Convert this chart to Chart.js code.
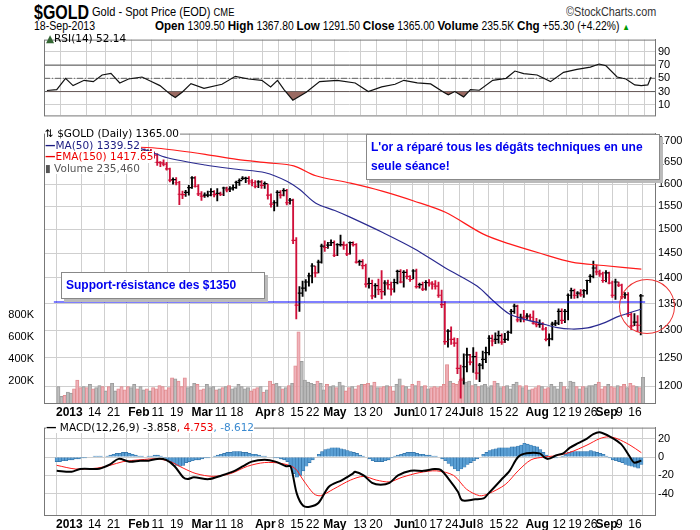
<!DOCTYPE html>
<html><head><meta charset="utf-8">
<script src="https://cdn.jsdelivr.net/npm/chart.js@4"></script>
<style>
body{margin:0;background:#fff;width:700px;height:530px;overflow:hidden;position:relative;font-family:"Liberation Sans",Arial,sans-serif}
canvas{position:absolute;left:0}
.t{position:absolute;white-space:nowrap;transform-origin:0 0}
.box{position:absolute;background:#fff;border:1px solid #888;box-shadow:3px 3px 0 #bbb;color:#0000ee;font:bold 12px "Liberation Sans",Arial;padding:3px 4px;line-height:19px}
.lg{position:absolute;font:10.5px "DejaVu Sans",sans-serif;white-space:nowrap}
.lg span.l{background:#fff;display:inline-block;padding-right:1px}
</style></head><body>
<div class="t" style="left:34px;top:1px;font-weight:bold;font-size:20px;transform:scaleX(0.8)">$GOLD</div>
<div class="t" style="left:92px;top:4px;font-size:13px;transform:scaleX(0.85)">Gold - Spot Price (EOD) <span style="font-size:11px">CME</span></div>
<div class="t" style="left:566px;top:5px;font-size:12px;color:#333;transform:scaleX(0.9)">©StockCharts.com</div>
<div class="t" style="left:34px;top:19px;font-size:12px;transform:scaleX(0.88)">18-Sep-2013</div>
<div class="t" style="left:155px;top:18px;font-size:12px;transform:scaleX(0.86)"><b style="font-size:13.5px">Open</b> 1309.50 <b style="font-size:13.5px">High</b> 1367.80 <b style="font-size:13.5px">Low</b> 1291.50 <b style="font-size:13.5px">Close</b> 1365.00 <b style="font-size:13.5px">Volume</b> 235.5K <b style="font-size:13.5px">Chg</b> +55.30 (+4.22%) <span style="color:#090;font-size:9px">▲</span></div>
<canvas id="rsi" width="700" height="95" style="top:30px"></canvas>
<canvas id="main" width="700" height="296" style="top:124px"></canvas>
<canvas id="macd" width="700" height="112" style="top:418px"></canvas>
<div class="lg" style="left:46px;top:32px"><span style="color:#363">▲</span>RSI(14) 52.14</div>
<div class="lg" style="left:45px;top:128px;line-height:11.5px">
<span class="l">⇅ $GOLD (Daily) 1365.00</span><br>
<span class="l" style="color:#1a1a80"><b>—</b>MA(50) 1339.52</span><br>
<span class="l" style="color:#e00"><b>—</b>EMA(150) 1417.65</span><br>
<span class="l" style="color:#555">▮ Volume 235,460</span></div>
<div class="lg" style="left:46px;top:421px;background:#fff"><b>—</b> MACD(12,26,9) -3.858<span style="color:#e00">, 4.753</span><span style="color:#3a8ad0">, -8.612</span></div>
<div class="box" style="left:61px;top:272px;width:194px">Support-résistance des $1350</div>
<div class="box" style="left:366px;top:134px;width:284px">L'or a réparé tous les dégâts techniques en une seule séance!</div>
<div style="position:absolute;left:619px;top:279px;width:54px;height:53px;border:1.3px solid #e33;border-radius:50%"></div>
<script>
const closes=[1659,1661,1657,1675,
1688,1664,1656,1646,1659,1655,1676,1662,1668,1683,1681,1688,1687,1692,1692,1685,1668,1659,1655,1661,1677,1663,
1669,1676,1674,1676,1670,1667,1650,1649,1646,1635,1609,1610,1603,1577,1576,1581,1592,1614,1595,1578,
1573,1575,1575,1583,1576,1579,1577,1591,1587,1589,1592,1604,1608,1613,1613,1607,1603,1595,1605,1597,
1601,1575,1555,1558,1581,1575,1585,1558,1564,1477,1347,1370,1380,1392,1404,1424,1410,1432,1465,1462,1467,1472,
1446,1468,1468,1467,1449,1472,1468,1432,1433,1425,1388,1389,1365,1385,1377,1373,1390,1387,1378,1391,1413,1392,
1411,1403,1397,1414,1383,1387,1378,1391,1390,1388,1384,1366,1348,1279,1298,1283,1276,1231,1211,1234,
1255,1242,1252,1223,1237,1247,1259,1285,1280,1283,1290,1278,1283,1296,1335,1345,1319,1324,1323,1326,1324,1313,
1310,1311,1302,1283,1284,1311,1313,1335,1318,1335,1366,1375,1366,1370,1367,1375,1395,1403,1420,1412,1408,1395,
1410,1390,1366,1392,1386,1363,1367,1329,1308,1315,1309,1365];
const highs=[1665,1668,1665,1677,
1694,1689,1669,1660,1664,1665,1680,1680,1672,1686,1690,1693,1694,1696,1698,1695,1686,1672,1665,1665,1679,1680,
1673,1678,1682,1680,1681,1675,1671,1652,1656,1650,1637,1614,1615,1606,1584,1586,1597,1617,1617,1599,
1583,1580,1584,1590,1585,1590,1582,1593,1593,1594,1598,1607,1612,1617,1616,1617,1610,1608,1608,1608,
1605,1600,1578,1563,1585,1585,1590,1588,1568,1566,1483,1383,1394,1397,1410,1429,1424,1436,1469,1476,1473,1478,
1476,1470,1488,1474,1469,1474,1474,1470,1436,1437,1428,1400,1396,1389,1398,1415,1395,1396,1392,1398,1416,1417,
1415,1417,1405,1417,1418,1390,1392,1395,1397,1393,1395,1392,1376,1354,1301,1306,1286,1285,1237,1257,
1267,1256,1268,1260,1240,1262,1269,1290,1291,1295,1298,1293,1294,1298,1339,1349,1347,1330,1337,1331,1330,1336,
1322,1319,1314,1305,1293,1315,1318,1340,1340,1339,1369,1380,1378,1373,1377,1377,1396,1407,1434,1426,1416,1412,
1415,1412,1394,1398,1392,1388,1371,1371,1333,1331,1327,1368];
const lows=[1650,1654,1650,1656,
1670,1661,1627,1640,1645,1645,1652,1656,1658,1664,1675,1678,1680,1685,1684,1679,1662,1655,1653,1651,1659,1658,
1655,1664,1670,1669,1665,1660,1643,1640,1642,1632,1605,1600,1598,1554,1567,1572,1575,1590,1593,1574,
1563,1570,1571,1573,1571,1562,1574,1574,1582,1583,1586,1590,1597,1610,1603,1600,1596,1591,1592,1590,
1590,1566,1548,1540,1550,1568,1573,1553,1555,1470,1321,1335,1364,1374,1384,1390,1402,1410,1430,1454,1460,1466,
1443,1445,1465,1458,1445,1448,1465,1430,1425,1418,1382,1380,1359,1362,1367,1359,1366,1378,1366,1372,1388,1390,
1382,1398,1393,1398,1380,1380,1375,1376,1384,1378,1378,1362,1342,1274,1269,1274,1270,1222,1180,1204,
1225,1237,1224,1212,1208,1230,1241,1255,1271,1275,1276,1274,1277,1281,1294,1331,1315,1315,1315,1320,1318,1311,
1306,1305,1300,1280,1271,1282,1308,1310,1312,1314,1319,1360,1360,1361,1364,1362,1368,1391,1400,1406,1403,1391,
1392,1388,1362,1358,1383,1359,1360,1325,1301,1308,1297,1291];
const volumes=[150,60,70,100,
90,130,210,140,150,140,170,130,140,160,150,110,150,180,110,130,150,120,150,140,170,130,
150,120,130,110,140,130,160,150,120,140,230,220,200,150,230,140,150,180,170,120,
130,170,140,150,120,130,140,150,160,130,140,170,150,130,140,110,130,140,150,100,
120,200,170,180,150,130,140,160,180,340,650,380,210,190,180,170,200,180,120,170,150,160,
140,190,160,110,140,150,130,160,170,170,180,160,190,140,140,150,160,150,110,170,220,160,
150,130,170,160,200,150,160,130,140,150,140,150,170,350,200,180,170,200,230,190,
200,160,170,150,160,170,140,160,200,180,140,150,160,130,170,190,160,140,160,120,130,140,
160,150,130,140,170,150,130,190,150,130,200,190,150,130,150,140,160,160,170,190,130,150,
170,150,140,160,150,170,140,180,160,150,140,235];
const ma50=[[0,1717],[26,1684],[35,1661],[47,1644],[57,1634],[66,1626],[73,1606],[77,1587],[82,1557],[88,1541],[93,1526],[103,1494],[113,1460],[123,1420],[133,1384],[138,1356],[143,1331],[148,1320],[153,1313],[158,1305],[163,1302],[168,1304],[173,1313],[178,1326],[185,1339.5]];
const ema150=[[0,1692],[26,1686],[33,1683],[47,1669],[57,1657],[67,1649],[75,1642],[82,1619],[93,1602],[103,1584],[113,1562],[123,1537],[135,1490],[143,1470],[153,1450],[163,1432],[173,1425],[185,1417.65]];
const rsi14=[[0,31.6],[3,33],[5.7,50],[8,39],[11.4,47],[14.2,45],[16.9,55],[19.6,57.6],[22.3,43],[25,49],[29.1,52],[31.8,45.6],[34.6,39],[38,25],[39.3,21],[41.4,29],[44.1,42],[48.1,35],[53.6,41],[57.7,53],[61.7,49],[65.8,47],[68.5,37],[70.6,47],[72.6,33],[75.3,17],[79.4,29],[83.5,45],[88.9,47],[94.4,43],[98.4,30],[102.5,37],[106.6,41],[109.3,47],[113.4,43],[117.5,41.6],[121.5,29],[122.9,25],[124.9,30],[127.6,22],[129.7,33],[132.4,32],[136.5,47],[140.6,50],[143.3,61],[146,57],[150.1,55],[154.2,45],[158.2,59],[162.3,63.6],[166.4,67],[169.1,71.6],[171.2,69],[174.6,52],[177.3,49],[180,40],[182,39],[184,40],[185,52.14]];
const macdLine=[[0,-15],[4.7,-16],[7.4,-13],[12.8,-13],[14.2,-12],[16.9,-8],[19.6,-2],[23,-5],[26.4,-4],[29.1,-4],[31.8,-2],[34.6,-3],[37.3,-10],[40,-22],[41.4,-24],[43.4,-22],[48.1,-24],[52.2,-20],[56.3,-15],[59,-10],[61.7,-5],[65.8,-3],[69.2,-5],[72.6,-10],[74,-10],[76,-40],[78,-53],[80.1,-54],[82.8,-50],[86.2,-32],[90.3,-25],[93.7,-18],[94.4,-16],[97.1,-20],[99.8,-28],[102.5,-30],[105.3,-28],[108,-20],[112,-15],[116.1,-15],[119.5,-13],[121.5,-14],[124.3,-25],[127,-38],[128.3,-47],[132.4,-46],[135.1,-45],[136.5,-40],[140.6,-25],[143.3,-15],[146,0],[148.7,4],[152.8,4],[154.2,0],[155.5,-2],[158.2,2],[160.3,4],[162.3,10],[165,15],[167.8,20],[169.8,25],[171.8,27],[175.2,22],[178.6,14],[181.4,0],[182.7,-6],[185,-3.86]];
const signalLine=[[0,-9],[6,-13],[12.8,-12],[16.9,-9],[21,-5],[26.4,-3],[31.8,-2],[35.9,-5],[40,-12],[44.1,-18],[49.5,-21],[55,-18],[60.4,-10],[65.8,-6],[71.2,-7],[75.3,-12],[78,-25],[81.4,-40],[83.5,-42],[87.5,-35],[93,-25],[97.1,-21],[101.1,-25],[105.3,-27],[109.3,-22],[114.7,-17],[120.2,-15],[125.6,-20],[129.7,-35],[133.8,-42],[136.5,-40],[141.9,-30],[146,-15],[150.1,-3],[154.2,0],[156.9,1],[162.3,5],[167.8,13],[171.8,20],[174.6,22],[177.3,20],[181.4,13],[185,4.75]];
const histogram=[-5,-5,-4,-4,-3,-3,-2,-2,-1,-1,
0,0,1,1,1,0,1, 2,3,4,4,5,5,4,3, 2,1,1,0,1,1,2,2,1, -1,-3,-5,-7,-9,-10,-9,
-6,-5,-4,-3,-3,-2,-1,-1,0, 1,2,3,4,5,5,6,6,6,5,5,4,3,3, 2,1,1,0,0,-1,-1,-2,-3,
-5,-10,-18,-22,-20, -15,-10,-6,-3,0,3,6, 8,9,10,10,10,9,8,7,6,5, 4,2,1,0,-2,
-4,-5,-5,-5,-4,-3,-1, 1,2,3,4,5,5,5,4,3,3, 2,2,1,1,0, -2,-4,-7,-10,-13,-15,-13,-11,-8,-6,
-4,-2,0, 3,5,7,8,9,10,10,10,10, 11,11,12,13,15,14,13,12,11, 8,5,2, 0,-1,-1,0,1,
3,5,6,6,6,6,6,6,7, 6,5,4,3, 1,-1,-3,-4,-5,-6,-8,-9,-10,-11,-12,-8];
const holidays=['2013-01-01','2013-03-29','2013-05-27','2013-07-04','2013-09-02'];
const tickDates=[['2013-01-02','2013'],['2013-01-14','14'],['2013-01-22','21'],['2013-02-01','Feb'],['2013-02-11','11'],['2013-02-19','19'],['2013-03-01','Mar'],['2013-03-11','11'],['2013-03-18','18'],['2013-04-01','Apr'],['2013-04-08','8'],['2013-04-15','15'],['2013-04-22','22'],['2013-05-01','May'],['2013-05-13','13'],['2013-05-20','20'],['2013-06-03','Jun'],['2013-06-10','10'],['2013-06-17','17'],['2013-06-24','24'],['2013-07-01','Jul'],['2013-07-08','8'],['2013-07-15','15'],['2013-07-22','22'],['2013-08-01','Aug'],['2013-08-12','12'],['2013-08-19','19'],['2013-08-26','26'],['2013-09-03','Sep'],['2013-09-09','9'],['2013-09-16','16']];
const priceTicks=[1200,1250,1300,1350,1400,1450,1500,1550,1600,1650,1700];
const volTicks=[200,400,600,800];
const rsiTicks=[10,30,50,70,90];
const macdTicks=[-40,-20,0,20];

const dates=[];
for(let d=new Date(Date.UTC(2012,11,26));d<=new Date(Date.UTC(2013,8,18));d.setUTCDate(d.getUTCDate()+1)){
 const s=d.toISOString().slice(0,10), w=d.getUTCDay();
 if(w>0&&w<6&&!holidays.includes(s))dates.push(s);
}
const tickIdx=tickDates.map(t=>dates.indexOf(t[0]));
const tickLbl=tickDates.map(t=>t[1]);
const isMonth=l=>/[A-Za-z]|2013/.test(l);
const XMIN=-0.9,XMAX=186.2;
const gridC='#cfcfcf';
const F='"Liberation Sans",Arial,sans-serif';
function xScale(showLabels,h){
 return {type:'linear',min:XMIN,max:XMAX,
  afterBuildTicks:s=>{s.ticks=tickIdx.map(v=>({value:v}));},
  afterFit:s=>{s.height=h;},
  grid:{color:gridC,drawTicks:false},border:{display:false},
  ticks:{display:showLabels,autoSkip:false,maxRotation:0,padding:2,color:'#000',
   callback:(v,i)=>tickLbl[i],
   font:c=>({family:F,size:12,weight:isMonth(tickLbl[c.index]||'')?'bold':'normal'})}};
}
function rightY(extra){
 return Object.assign({position:'right',afterFit:s=>{s.width=45;},
  grid:{color:gridC,drawTicks:false},border:{color:'#777'},
  ticks:{color:'#000',padding:3,font:{family:F,size:11}}},extra);
}
Chart.defaults.animation=false;
Chart.defaults.plugins.legend.display=false;
Chart.defaults.plugins.tooltip.enabled=false;
Chart.defaults.responsive=false;
const frame={id:'frame',afterDraw(c){const a=c.chartArea,x=c.ctx;x.save();x.strokeStyle='#777';x.lineWidth=1;x.strokeRect(a.left+.5,a.top+.5,a.right-a.left,a.bottom-a.top);x.restore();}};

const hl=(v,col,dash)=>({type:'line',data:[{x:XMIN,y:v},{x:XMAX,y:v}],borderColor:col,borderWidth:1,borderDash:dash||[],pointRadius:0});
new Chart(document.getElementById('rsi'),{type:'line',
 data:{datasets:[
  {data:rsi14.map(p=>({x:p[0],y:p[1]})),borderColor:'#111',borderWidth:1.2,pointRadius:0,tension:0,
   fill:{target:{value:30},above:'rgba(0,0,0,0)',below:'#9a6a62'}},
  hl(70,'#555'),hl(30,'#555'),hl(50,'#666',[6,2,1,2])]},
 options:{layout:{autoPadding:false,padding:{top:1,bottom:1,left:44}},
  scales:{x:xScale(false,0),y:rightY({min:-6,max:108.5,afterBuildTicks:s=>{s.ticks=rsiTicks.map(v=>({value:v}));}})}},
 plugins:[frame]});

const upDown=closes.map((c,i)=>i===0?true:c>=closes[i-1]);
new Chart(document.getElementById('main'),{type:'bar',
 data:{datasets:[
  {type:'line',yAxisID:'y',data:[{x:XMIN,y:1353},{x:XMAX,y:1353}],borderColor:'#0000ff',borderWidth:1.2,pointRadius:0,order:1},
  {type:'line',yAxisID:'y',data:ema150.map(p=>({x:p[0],y:p[1]})),borderColor:'#ff1a1a',borderWidth:1.2,pointRadius:0,tension:0.3,order:2},
  {type:'line',yAxisID:'y',data:ma50.map(p=>({x:p[0],y:p[1]})),borderColor:'#2a2a90',borderWidth:1.2,pointRadius:0,tension:0.3,order:3},
  {type:'scatter',yAxisID:'y',data:closes.map((c,i)=>({x:i,y:c})),pointStyle:'line',pointRadius:2.3,borderWidth:1.2,
   borderColor:upDown.map(u=>u?'#000':'#d0103a'),order:4},
  {type:'bar',yAxisID:'y',data:closes.map((c,i)=>({x:i,y:[lows[i],highs[i]]})),barThickness:1.2,
   backgroundColor:upDown.map(u=>u?'#000':'#d0103a'),order:5},
  {type:'bar',yAxisID:'yv',data:volumes.map((v,i)=>({x:i,y:v})),barThickness:3.3,borderWidth:{left:0.6,right:0.6,top:0.6},
   backgroundColor:upDown.map(u=>u?'rgba(175,175,175,0.8)':'rgba(235,160,170,0.8)'),
   borderColor:upDown.map(u=>u?'#999':'#d88'),order:6}]},
 options:{layout:{autoPadding:false,padding:{top:1}},
  scales:{x:xScale(true,17),
   y:rightY({type:'logarithmic',min:1172,max:1719,afterBuildTicks:s=>{s.ticks=priceTicks.map(v=>({value:v}));},
    ticks:{color:'#000',padding:3,font:{family:F,size:11},callback:v=>String(v)}}),
   yv:{position:'left',min:0,max:2460,afterFit:s=>{s.width=44;},grid:{display:false},border:{display:false},
    afterBuildTicks:s=>{s.ticks=volTicks.map(v=>({value:v}));},
    ticks:{color:'#000',padding:2,font:{family:F,size:11},callback:v=>v+'K'}}}},
 plugins:[frame]});

new Chart(document.getElementById('macd'),{type:'bar',
 data:{datasets:[
  {type:'line',data:macdLine.map(p=>({x:p[0],y:p[1]})),borderColor:'#000',borderWidth:2,pointRadius:0,tension:0.3,order:1},
  {type:'line',data:signalLine.map(p=>({x:p[0],y:p[1]})),borderColor:'#ff1a1a',borderWidth:1,pointRadius:0,tension:0.3,order:2},
  {type:'bar',data:histogram.map((v,i)=>({x:i,y:v})),barThickness:3.3,backgroundColor:'#5a9fd4',borderColor:'#2f6fa5',borderWidth:0.6,order:3}]},
 options:{layout:{autoPadding:false,padding:{top:2,left:44}},
  scales:{x:xScale(true,15),y:rightY({min:-63,max:32,afterBuildTicks:s=>{s.ticks=macdTicks.map(v=>({value:v}));}})}},
 plugins:[frame]});
</script></body></html>
